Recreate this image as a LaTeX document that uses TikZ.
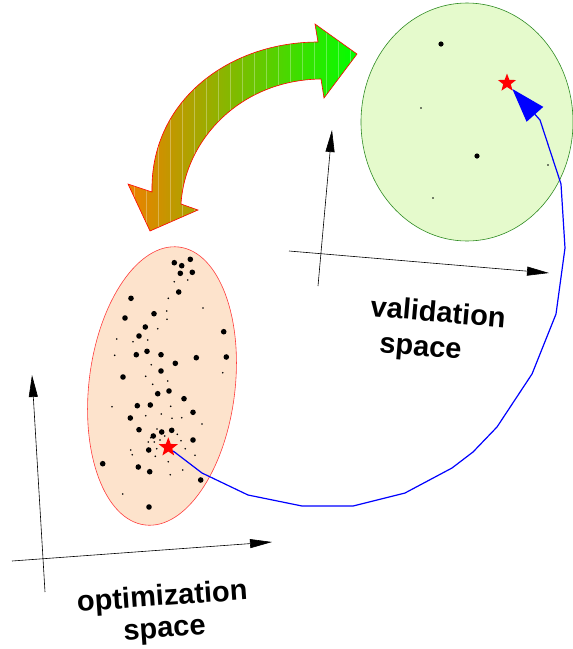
\documentclass[tikz,border=0pt]{standalone}
\usepackage{fontspec}
\setmainfont{Liberation Sans}
\usepackage{xcolor}
\usetikzlibrary{shapes.geometric, arrows.meta}
\definecolor{optfill}{HTML}{FDE3CC}
\definecolor{optline}{HTML}{FF3C3C}
\definecolor{valfill}{HTML}{E5FACC}
\definecolor{valline}{HTML}{2E8B22}
\definecolor{swaporange}{HTML}{EE8000}
\definecolor{swapgreen}{HTML}{00FF00}
\tikzset{
  optzone/.style={draw=optline, fill=optfill, line width=0.6pt},
  valzone/.style={draw=valline, fill=valfill, line width=0.6pt},
  axis/.style={-{Triangle[length=22pt, width=9pt]}, line width=0.6pt},
  best/.style={star, star points=5, star point ratio=2.4, fill=red,
    inner sep=0pt, minimum size=20pt},
  flow/.style={-{Triangle[length=34pt, width=22pt]}, blue, line width=1.2pt},
  swap/.style={draw=red, line width=0.6pt, left color=swaporange,
    right color=swapgreen},
  caption/.style={font=\fontsize{29}{32}\selectfont\bfseries, inner sep=0pt},
}

\begin{document}
\begin{tikzpicture}[x=1pt, y=-1pt]
  \useasboundingbox (0,0) rectangle (573,649);

  % --- Optimierungsraum ---
  \draw[optzone, shift={(162,386)}, rotate=-7] (0,0) ellipse [x radius=73pt, y radius=140pt];
  \draw[axis] (45,592) -- (32,375);
  \draw[axis] (12,561) -- (272,542);

  \foreach \p in {(174.3,262.7), (181.7,265.7), (190.3,259.3), (180.3,273.3),
      (192.3,272.3), (178.7,292), (131,298.3), (154,313.7), (125,318),
      (145.3,327), (223.7,331.7), (139,336), (147,351.3), (136.3,354.7),
      (161,354.7), (196.3,357.7), (226.3,357), (175.3,363.3), (161,371),
      (123,377), (169,391), (157.7,393.7), (184,398.7), (137.3,405.7),
      (150.3,405), (193,412.3), (130.3,418), (139,429.7), (161.7,432),
      (171.7,430.3), (153.3,436), (193,440), (148.7,450), (102.7,463.7),
      (138.3,467), (149.7,471.7), (200.7,480), (149,507)}
    \fill \p circle [radius=2.8pt];
  \foreach \p in {(174.3,281.7), (187.7,280), (168.3,298.3), (203,308),
      (166.7,311), (167,319.3), (157.7,328.7), (116.7,339), (133,341.7),
      (147.7,340), (114.7,355.3), (151.3,364.7), (145.7,376.3), (167.7,381),
      (152.7,384.3), (222.7,372.7), (112,406.7), (170.7,406.3), (161.3,414),
      (145.7,415.7), (172,418.3), (181.7,417.7), (202,424), (157,429),
      (177.3,434.3), (181,440.7), (148.3,442), (154.3,442), (160,440),
      (156.7,448.7), (185.3,448.7), (130.7,450), (132.3,454.7), (155.3,456.3),
      (195,455.3), (168.3,461.7), (182.7,470), (170.3,474.7), (122.7,494),
      (150.7,437.7), (164.7,436)}
    \fill \p circle [radius=0.9pt];

  \node[best] (ostar) at (168.3,447.3) {};

  \node[caption, align=center, rotate=4] (optlabel) at (163.5,614)
    {optimization\\space};

  % --- Validierungsraum ---
  \draw[valzone] (467,122) ellipse [x radius=106pt, y radius=119pt];
  \draw[axis] (318,286) -- (332,130);
  \draw[axis] (289,251) -- (549,273);

  \foreach \p in {(441,44), (477,156)}
    \fill \p circle [radius=2.6pt];
  \foreach \p in {(421,108), (548,165), (433,198)}
    \fill \p circle [radius=0.9pt];

  \node[best, minimum size=19pt] (vstar) at (507,83) {};

  \node[caption, align=left, rotate=-5] (vallabel) at (436.5,332)
    {validation\\[3pt]\hspace*{12pt}space};

  % --- Doppelpfeil ---
  \draw[swap, path picture={
      \foreach \sx in {134,146,...,358}
        \draw[white, opacity=0.3, line width=0.5pt] (\sx,0) -- (\sx,240);}]
    (318,42) -- (315,24) -- (357,54) -- (324,98) -- (321,79)
    .. controls (240,80) and (185,140) .. (181,204)
    -- (198,210) -- (150,231) -- (128,184) -- (152,192)
    .. controls (150,100) and (230,42) .. (318,42) -- cycle;

  % --- Verbindung der beiden Optima ---
  \draw[flow] (ostar) -- (202,473) -- (248,495) -- (302,506) -- (353,506)
    -- (405,493) -- (452,468) -- (473,452) -- (497,427) -- (532,374)
    -- (556,314) -- (565,248) -- (561,184) -- (540,120) -- (vstar);

\end{tikzpicture}
\end{document}
